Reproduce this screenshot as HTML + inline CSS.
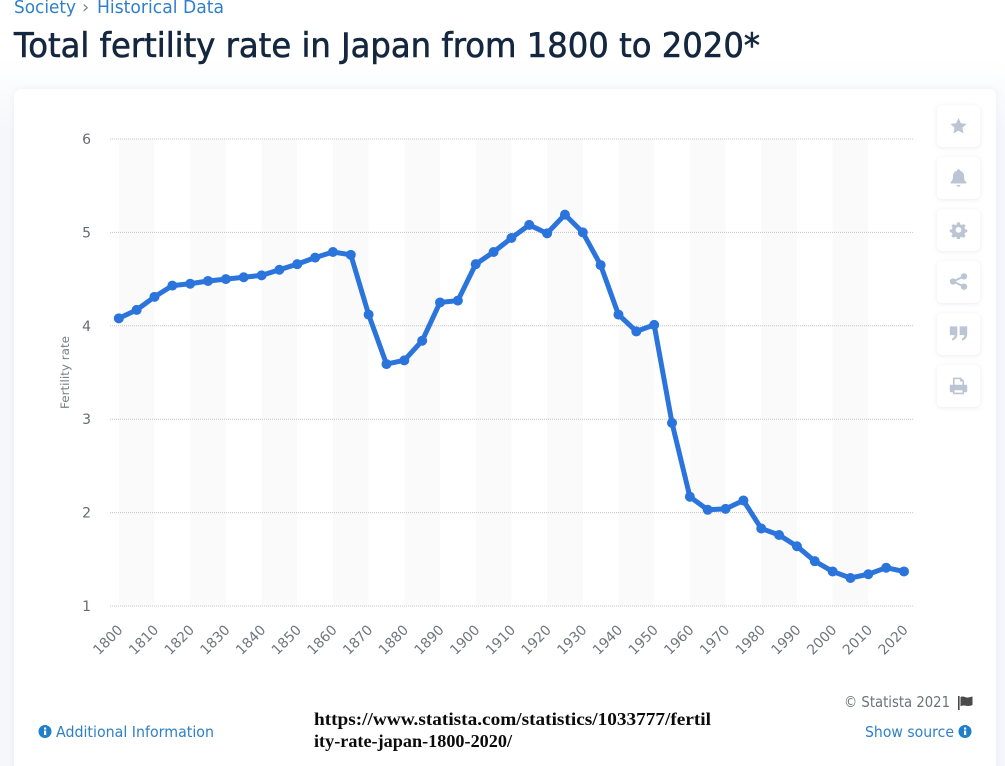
<!DOCTYPE html>
<html lang="en">
<head>
<meta charset="utf-8">
<title>Total fertility rate in Japan from 1800 to 2020</title>
<style>
  html, body { margin: 0; padding: 0; width: 1005px; height: 766px; overflow: hidden; background: #fff; }
  body { position: relative; font-family: "DejaVu Sans", "Liberation Sans", sans-serif; }
  #page-bg { position: absolute; inset: 0; background: linear-gradient(180deg, #ffffff 0, #ffffff 60px, #f5f7fb 130px, #f5f7fb 100%); }
  #card { position: absolute; left: 14px; top: 89px; width: 982px; height: 700px; background: #fff; border-radius: 7px; box-shadow: 0 0 6px rgba(225,230,240,.5); }
  #stage { position: absolute; left: 0; top: 0; }
  .tool { position: absolute; left: 937px; width: 43px; height: 42px; background: #fff; border-radius: 5px; box-shadow: 0 1px 5px rgba(200,208,222,.4); }
  .tool svg { position: absolute; left: 12px; top: 11px; width: 19px; height: 19px; fill: #bcc5d4; }
</style>
</head>
<body>
<div id="page-bg"></div>
<div id="card"></div>

<svg id="stage" width="1005" height="766" viewBox="0 0 1005 766">
  <g font-family="'DejaVu Sans','Liberation Sans',sans-serif" font-size="18" fill="#2f80c8">
    <text x="14" y="13" textLength="62" lengthAdjust="spacingAndGlyphs">Society</text>
    <text x="82" y="13" fill="#7b8794">›</text>
    <text x="97" y="13" textLength="127" lengthAdjust="spacingAndGlyphs">Historical Data</text>
  </g>
  <text x="14" y="57" font-family="'DejaVu Sans','Liberation Sans',sans-serif" font-size="33.500" fill="#14273f" stroke="#14273f" stroke-width="0.6" textLength="746" lengthAdjust="spacingAndGlyphs">Total fertility rate in Japan from 1800 to 2020*</text>

  <g id="bands"></g>
  <g id="grid"></g>
  <g id="yticks"></g>
  <g id="xticks"></g>
  <text transform="translate(69,409) rotate(-90)" font-family="'DejaVu Sans','Liberation Sans',sans-serif" font-size="11.500" fill="#7a8086" textLength="73" lengthAdjust="spacingAndGlyphs">Fertility rate</text>
  <g id="series"></g>

  <g font-family="'DejaVu Sans','Liberation Sans',sans-serif">
    <text x="844" y="707" font-size="15" fill="#6d737a" textLength="106" lengthAdjust="spacingAndGlyphs">© Statista 2021</text>
    <path d="M958 696 h1.600 v14 h-1.600 z M960.500 697 c3-1.400 5 1 7.500 .5 c2-.3 3-.6 4.500-1 v8.500 c-3 1.400-5 1-7.500 .6 c-1.800-.3-3 0-4.500 .6 z" fill="#4a4a4a"/>
    <g>
      <circle cx="45" cy="731.500" r="6.500" fill="#1f7fc9"/>
      <rect x="44" y="730.500" width="2.200" height="4.500" fill="#fff"/>
      <rect x="44" y="727.500" width="2.200" height="2" fill="#fff"/>
      <text x="56" y="737" font-size="15.500" fill="#2f80c8" textLength="158" lengthAdjust="spacingAndGlyphs">Additional Information</text>
    </g>
    <g>
      <text x="865" y="737" font-size="15.500" fill="#2f80c8" textLength="89" lengthAdjust="spacingAndGlyphs">Show source</text>
      <circle cx="965" cy="731.500" r="6.500" fill="#1f7fc9"/>
      <rect x="964" y="730.500" width="2.200" height="4.500" fill="#fff"/>
      <rect x="964" y="727.500" width="2.200" height="2" fill="#fff"/>
    </g>
  </g>
  <g font-family="'Liberation Serif',serif" font-weight="bold" font-size="18" fill="#0b0b0b">
    <text x="314" y="725" textLength="397" lengthAdjust="spacingAndGlyphs">https://www.statista.com/statistics/1033777/fertil</text>
    <text x="314" y="747" textLength="198" lengthAdjust="spacingAndGlyphs">ity-rate-japan-1800-2020/</text>
  </g>
</svg>

<div class="tool" style="top:105px">
  <svg viewBox="0 0 24 24"><path d="M12 2.500l3 6.700 7.300 .8-5.400 4.900 1.500 7.200L12 18.400l-6.400 3.700 1.500-7.200L1.700 10l7.300-.8z"/></svg>
</div>
<div class="tool" style="top:157px">
  <svg viewBox="0 0 24 24"><path d="M12 1.500c1.200 0 2 .8 2 2 3.400 .8 5 3.700 5 7 0 4 1 5.500 3 7.500v1.500H2V18c2-2 3-3.500 3-7.500 0-3.300 1.600-6.200 5-7 0-1.200 .8-2 2-2zM9.500 21.500h5c0 1.500-1.100 2-2.500 2s-2.500-.5-2.500-2z"/></svg>
</div>
<div class="tool" style="top:209px">
  <svg viewBox="0 0 24 24"><path fill-rule="evenodd" d="M10 2h4l.6 3 2.100 .9 2.600-1.700 2.800 2.800-1.700 2.600.9 2.100 3 .6v3.400l-3 .6-.9 2.100 1.700 2.600-2.800 2.800-2.600-1.700-2.100 .9-.6 3h-4l-.6-3-2.100-.9-2.600 1.700-2.800-2.800 1.700-2.600-.9-2.100-3-.6v-3.400l3-.6.9-2.100L2 7l2.800-2.800 2.600 1.700 2.100-.9zM12 8.500a4 4 0 1 0 0 8 4 4 0 0 0 0-8z" transform="translate(1.200 1.200) scale(.9)"/></svg>
</div>
<div class="tool" style="top:261px">
  <svg viewBox="0 0 24 24"><circle cx="19" cy="5.500" r="4"/><circle cx="19" cy="18.500" r="4"/><circle cx="5" cy="12" r="4"/><path d="M5 12L19 5.500M5 12l14 6.500" stroke="#bcc5d4" stroke-width="2.400"/></svg>
</div>
<div class="tool" style="top:313px">
  <svg viewBox="0 0 24 24"><path d="M1 3h9.500v10c0 4-2.500 7-6.500 8v-3c2-.5 3-2 3-4H1zM13.500 3H23v10c0 4-2.500 7-6.500 8v-3c2-.5 3-2 3-4h-6z"/></svg>
</div>
<div class="tool" style="top:365px">
  <svg viewBox="0 0 24 24"><path fill-rule="evenodd" d="M6 2h9l4 4v5h2.500c1 0 1.500 .7 1.500 1.500V19c0 1-.7 1.500-1.500 1.500H19V23H5v-2.500H2.500C1.500 20.500 1 20 1 19v-6.500c0-.8 .5-1.500 1.500-1.500H5V3c0-.6 .4-1 1-1zm1 2v7h10V7h-3V4zM7 18v3h10v-3z"/></svg>
</div>

<script>
const years = [1800,1805,1810,1815,1820,1825,1830,1835,1840,1845,1850,1855,1860,1865,1870,1875,1880,1885,1890,1895,1900,1905,1910,1915,1920,1925,1930,1935,1940,1945,1950,1955,1960,1965,1970,1975,1980,1985,1990,1995,2000,2005,2010,2015,2020];
const fertilityRate = [4.08,4.17,4.31,4.43,4.45,4.48,4.50,4.52,4.54,4.60,4.66,4.73,4.79,4.76,4.12,3.59,3.63,3.84,4.25,4.27,4.66,4.79,4.94,5.08,4.99,5.19,5.00,4.65,4.12,3.94,4.01,2.96,2.17,2.03,2.04,2.13,1.83,1.76,1.64,1.48,1.37,1.30,1.34,1.41,1.37];
const yTickValues = [1,2,3,4,5,6];
const xTickLabels = [1800,1810,1820,1830,1840,1850,1860,1870,1880,1890,1900,1910,1920,1930,1940,1950,1960,1970,1980,1990,2000,2010,2020];

const SVG_NS = 'http://www.w3.org/2000/svg';
const xScale = function (year) { return 118.8 + (year - 1800) * (904 - 118.8) / 220; };
const yScale = function (v) { return 606 - (v - 1) * 93.4; };
const FONT = "'DejaVu Sans','Liberation Sans',sans-serif";

function make(tag, attrs, parent) {
  const el = document.createElementNS(SVG_NS, tag);
  Object.keys(attrs).forEach(function (k) { el.setAttribute(k, attrs[k]); });
  parent.appendChild(el);
  return el;
}

const bandsG = document.getElementById('bands');
for (let i = 0; i + 1 < xTickLabels.length; i += 2) {
  const left = xScale(xTickLabels[i]);
  const right = xScale(xTickLabels[i + 1]);
  const band = make('rect', { x: left, y: yScale(6), width: right - left, height: yScale(1) - yScale(6), fill: '#fafafa' }, bandsG);
  
  
}

const gridG = document.getElementById('grid');
const yLabelG = document.getElementById('yticks');
yTickValues.forEach(function (v) {
  const line = make('line', { x1: 110, x2: 914, y1: yScale(v), y2: yScale(v), stroke: '#c4c4c4', 'stroke-width': 1, 'stroke-dasharray': '1 1' }, gridG);
  
  
  const label = make('text', { x: 91, y: yScale(v) + 5, 'text-anchor': 'end', 'font-family': FONT, 'font-size': 14, fill: '#666b70' }, yLabelG);
  label.textContent = String(v);
  
  
});

const xLabelG = document.getElementById('xticks');
xTickLabels.forEach(function (yr) {
  const px = xScale(yr) + 2;
  const label = make('text', { x: 0, y: 0, transform: 'translate(' + px + ',628) rotate(-45)', 'text-anchor': 'end', 'font-family': FONT, 'font-size': 14, fill: '#70767c', textLength: 35, lengthAdjust: 'spacingAndGlyphs', dy: '4' }, xLabelG);
  label.textContent = String(yr);
  
  
});

const seriesG = document.getElementById('series');
const points = years.map(function (yr, i) { return xScale(yr) + ',' + yScale(fertilityRate[i]); }).join(' ');
const seriesLine = make('polyline', { points: points, fill: 'none', stroke: '#2a74dc', 'stroke-width': 5, 'stroke-linejoin': 'round' }, seriesG);


years.forEach(function (yr, i) {
  const dot = make('circle', { cx: xScale(yr), cy: yScale(fertilityRate[i]), r: 5, fill: '#2a74dc' }, seriesG);
  
  
});
</script>
</body>
</html>
